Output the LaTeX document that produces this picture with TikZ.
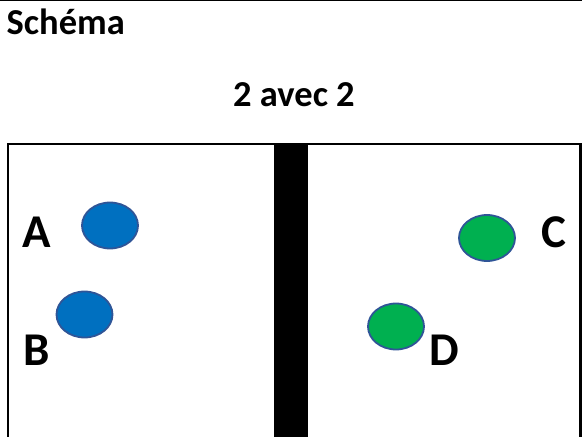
\documentclass[tikz,border=0pt]{standalone}
\usepackage{fontspec}
\setmainfont{Carlito}
\usetikzlibrary{shapes.geometric}
\definecolor{ballblue}{HTML}{0070C0}
\definecolor{ballgreen}{HTML}{00B050}
\definecolor{balledge}{HTML}{2F5597}
\begin{document}
\begin{tikzpicture}[x=1pt,y=-1pt,
  ball/.style={ellipse, draw=balledge, line width=1.8pt, minimum width=56pt, minimum height=46pt, inner sep=0pt},
  player/.style={font=\fontsize{47}{47}\selectfont\bfseries, inner sep=0pt, anchor=center},
  heading/.style={font=\fontsize{36.5}{36.5}\selectfont\bfseries, inner sep=0pt}]
\useasboundingbox (0,0) rectangle (582,437);
% top rule
\draw[line width=1.2pt] (0,0.6) -- (582,0.6);
% headings
\node[heading, anchor=base west] (title) at (6.5,34.5) {Schéma};
\node[heading, anchor=base] (sub) at (294,106.5) {2 avec 2};
% field outline and central net
\draw[line width=2.2pt] (8,437) -- (8,144) -- (580.5,144) -- (580.5,437);
\fill (274,143) rectangle (308,437);
% players
\node[ball, fill=ballblue] (a) at (110,225.5) {};
\node[ball, fill=ballblue] (b) at (84.5,314.5) {};
\node[ball, fill=ballgreen] (c) at (487,238) {};
\node[ball, fill=ballgreen] (d) at (396,326.5) {};
\node[player] (la) at (36.5,232.5) {A};
\node[player] (lb) at (36.5,350.5) {B};
\node[player] (lc) at (553.5,232.5) {C};
\node[player] (ld) at (444,350.5) {D};
\end{tikzpicture}
\end{document}
